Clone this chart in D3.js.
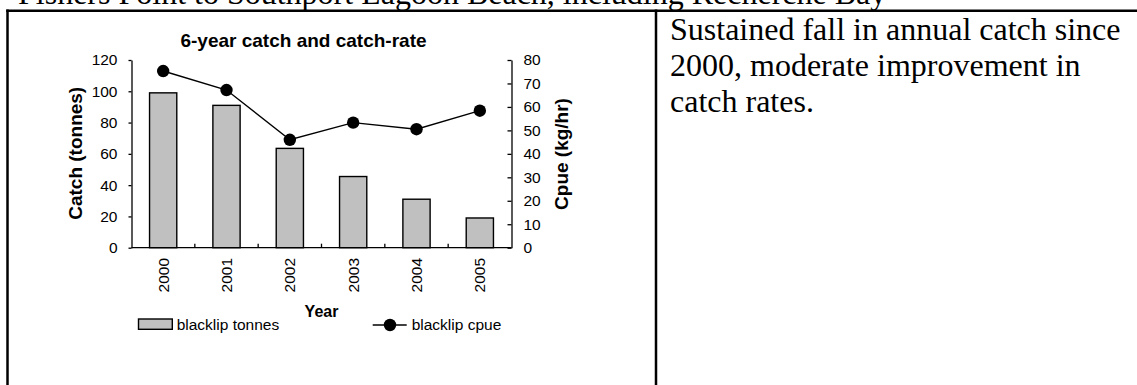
<!DOCTYPE html>
<html>
<head>
<meta charset="utf-8">
<script src="https://cdn.jsdelivr.net/npm/d3@7"></script>
<style>
  html, body { margin: 0; padding: 0; background: #fff; }
  svg { display: block; }
  .sans { font-family: "Liberation Sans", Arial, sans-serif; }
  .serif { font-family: "Liberation Serif", "Times New Roman", serif; }
</style>
</head>
<body>
<svg id="page" width="1137" height="385"></svg>
<script>
// Blacklip abalone, Fishers Point to Southport Lagoon Beach
const years = ["2000", "2001", "2002", "2003", "2004", "2005"];
const tonnes = [99, 91, 63.5, 45.5, 31, 19];        // catch, tonnes (left axis)
const cpue = [75.3, 67.2, 46, 53.3, 50.5, 58.4];     // catch per unit effort, kg/hr (right axis)
const leftTicks = [0, 20, 40, 60, 80, 100, 120];
const rightTicks = [0, 10, 20, 30, 40, 50, 60, 70, 80];
const headingText = "Fishers Point to Southport Lagoon Beach, including Recherche Bay";
const noteLines = ["Sustained fall in annual catch since", "2000, moderate improvement in", "catch rates."];

const svg = d3.select("#page");

// ---- document table frame and text ----
svg.append("text").attr("class", "serif")
  .attr("x", 18).attr("y", 3.5).attr("font-size", 32).attr("fill", "#000")
  .text(headingText);

const frame = svg.append("g").attr("stroke", "#000").attr("stroke-width", 2.5);
frame.append("line").attr("x1", 6.25).attr("x2", 1137).attr("y1", 10.7).attr("y2", 10.7);
frame.append("line").attr("x1", 7.5).attr("x2", 7.5).attr("y1", 9.5).attr("y2", 385);
frame.append("line").attr("x1", 656).attr("x2", 656).attr("y1", 9.5).attr("y2", 385);

svg.append("g").attr("class", "serif").attr("font-size", 32).attr("fill", "#000")
  .selectAll("text").data(noteLines).join("text")
  .attr("x", 670).attr("y", (d, i) => 40 + i * 36)
  .text(d => d);

// ---- chart ----
const plot = { left: 131.5, right: 511.5, top: 60, bottom: 247.7 };

const x = d3.scaleBand().domain(years).range([plot.left, plot.right]).paddingInner(0.57).paddingOuter(0.285);
const yL = d3.scaleLinear().domain([0, 120]).range([plot.bottom, plot.top]);
const yR = d3.scaleLinear().domain([0, 80]).range([plot.bottom, plot.top]);
const step = x.step();

const chart = svg.append("g").attr("class", "sans");

// title
chart.append("text").attr("x", 303.5).attr("y", 46.7).attr("text-anchor", "middle")
  .attr("font-size", 19).attr("font-weight", "bold").text("6-year catch and catch-rate");

// bars
chart.append("g").selectAll("rect").data(years).join("rect")
  .attr("x", d => x(d)).attr("width", x.bandwidth())
  .attr("y", (d, i) => yL(tonnes[i])).attr("height", (d, i) => yL(0) - yL(tonnes[i]))
  .attr("fill", "#c0c0c0").attr("stroke", "#000").attr("stroke-width", 1.4);

// left axis
const axL = chart.append("g").attr("transform", `translate(${plot.left},0)`)
  .call(d3.axisLeft(yL).tickValues(leftTicks).tickSize(3).tickSizeOuter(0).tickPadding(11));
// right axis (ticks point inward)
const axR = chart.append("g").attr("transform", `translate(${plot.right},0)`)
  .call(d3.axisRight(yR).tickValues(rightTicks).tickSizeInner(-4).tickSizeOuter(0).tickPadding(12));
[axL, axR].forEach(a => {
  a.attr("font-family", null).attr("font-size", 15.5);
  a.selectAll("path, line").attr("stroke", "#000").attr("stroke-width", 1.3);
  a.selectAll("text").attr("fill", "#000");
});

// category axis: baseline with short inward ticks between years
const cat = chart.append("g");
cat.append("line").attr("x1", plot.left).attr("x2", plot.right)
  .attr("y1", plot.bottom).attr("y2", plot.bottom).attr("stroke", "#000").attr("stroke-width", 1.3);
cat.selectAll("line.sep").data(years.slice(1)).join("line").attr("class", "sep")
  .attr("x1", d => x(d) + x.bandwidth() / 2 - step / 2).attr("x2", d => x(d) + x.bandwidth() / 2 - step / 2)
  .attr("y1", plot.bottom).attr("y2", plot.bottom - 4).attr("stroke", "#000").attr("stroke-width", 1.3);
cat.selectAll("text").data(years).join("text")
  .attr("transform", d => `translate(${x(d) + x.bandwidth() / 2},258) rotate(-90)`)
  .attr("text-anchor", "end").attr("dy", "0.36em").attr("font-size", 15.5).text(d => d);

// cpue line and markers
const line = d3.line().x((d, i) => x(years[i]) + x.bandwidth() / 2).y(d => yR(d));
chart.append("path").datum(cpue).attr("d", line)
  .attr("fill", "none").attr("stroke", "#000").attr("stroke-width", 1.4);
chart.append("g").selectAll("circle").data(cpue).join("circle")
  .attr("cx", (d, i) => x(years[i]) + x.bandwidth() / 2).attr("cy", d => yR(d)).attr("r", 6.2)
  .attr("fill", "#000");

// axis titles
chart.append("text").attr("transform", "translate(75,153.3) rotate(-90)")
  .attr("text-anchor", "middle").attr("dy", "0.35em").attr("font-size", 19).attr("font-weight", "bold")
  .text("Catch (tonnes)");
chart.append("text").attr("transform", "translate(561,154) rotate(-90)")
  .attr("text-anchor", "middle").attr("dy", "0.35em").attr("font-size", 19).attr("font-weight", "bold")
  .text("Cpue (kg/hr)");
chart.append("text").attr("x", (plot.left + plot.right) / 2).attr("y", 317.3).attr("text-anchor", "middle")
  .attr("font-size", 16).attr("font-weight", "bold").text("Year");

// legend
const lg = chart.append("g").attr("font-size", 15.5);
lg.append("rect").attr("x", 138.5).attr("y", 319).attr("width", 33.8).attr("height", 10.3)
  .attr("fill", "#c0c0c0").attr("stroke", "#000").attr("stroke-width", 1.4);
lg.append("text").attr("x", 176.7).attr("y", 330.3).text("blacklip tonnes");
lg.append("line").attr("x1", 372.7).attr("x2", 406.7).attr("y1", 325).attr("y2", 325)
  .attr("stroke", "#000").attr("stroke-width", 1.4);
lg.append("circle").attr("cx", 390).attr("cy", 325).attr("r", 6.2).attr("fill", "#000");
lg.append("text").attr("x", 411.7).attr("y", 330.3).text("blacklip cpue");
</script>
</body>
</html>
